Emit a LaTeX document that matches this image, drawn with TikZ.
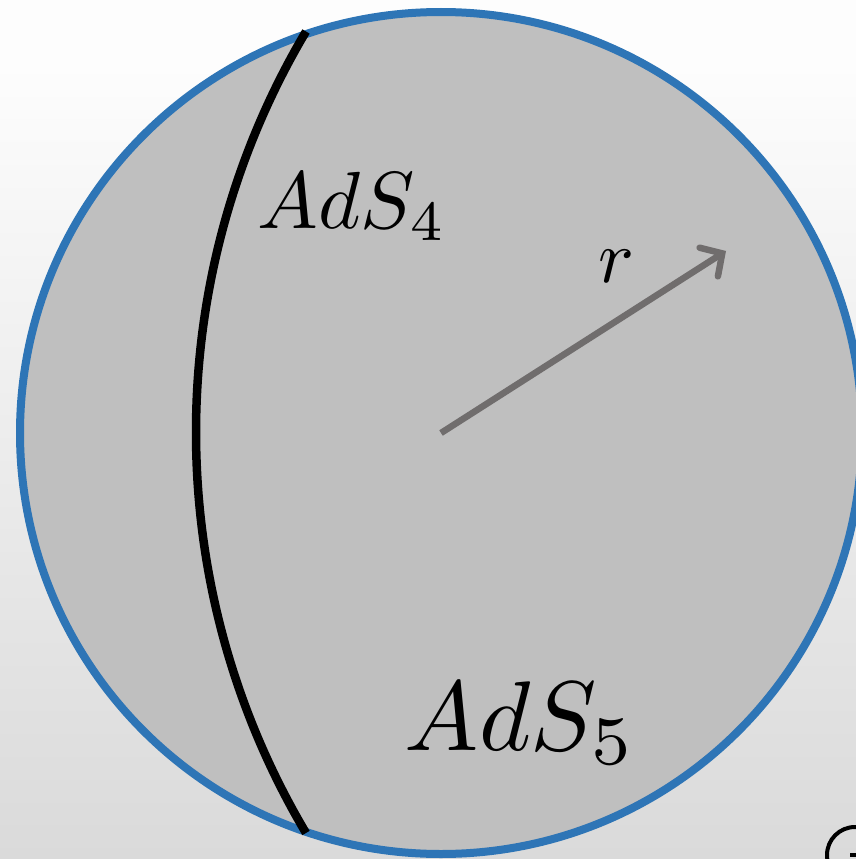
\documentclass[tikz,border=0pt]{standalone}
\usepackage{tikz}
\usetikzlibrary{arrows.meta,positioning}

\definecolor{ringblue}{HTML}{2E75B6}
\definecolor{ballgrey}{HTML}{BFBFBF}
\definecolor{radgrey}{HTML}{706D6D}
\definecolor{bgtop}{HTML}{FDFDFD}
\definecolor{bgbot}{HTML}{DADADA}

\tikzset{
  ball/.style={fill=ballgrey, draw=ringblue, line width=8},
  brane/.style={draw=black, line width=8.5},
  radius arrow/.style={draw=radgrey, line width=6.5,
    -{Straight Barb[length=16, width=34, line cap=round]}},
  biglabel/.style={inner sep=0, anchor=base west}
}

\begin{document}
\begin{tikzpicture}[x=1pt, y=-1pt]
    % frame and background
    \useasboundingbox (0,0) rectangle (856,859);
    \clip (0,0) rectangle (856,859);
    \fill[bgtop] (0,0) rectangle (856,62);
    \shade[top color=bgtop, bottom color=bgbot] (0,62) rectangle (856,859);

    % the AdS_5 ball and its boundary
    \coordinate (centre) at (441,433);
    \path[ball] (centre) circle (421);

    % the AdS_4 brane
    \coordinate (braneend) at (306,833);
    \draw[brane] (braneend) arc[start angle=149.3, end angle=210.7, radius=785];

    % radial direction
    \coordinate (tip) at (726,251);
    \draw[radius arrow] (centre) -- (tip);
    \node[biglabel, scale=7.5] (rlab) at (597,282) {$r$};

    % labels
    \node[biglabel, scale=8.1] (adsfour) at (256,228) {$AdS_4$};
    \node[biglabel, scale=9.9] (adsfive) at (403,750) {$AdS_5$};

    % glyph cut off at the corner
    \draw[line width=4] (855,855) circle (28);
    \draw[line width=4] (850,855) -- (870,855);
\end{tikzpicture}
\end{document}
